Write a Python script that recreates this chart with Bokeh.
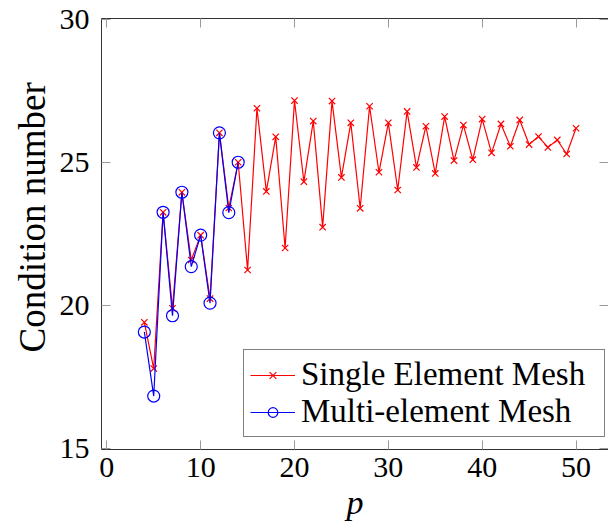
import numpy as np
from bokeh.plotting import figure
from bokeh.models import (Range1d, LinearAxis, FixedTicker, Legend, LegendItem,
                          CustomJSTickFormatter, Title)
from bokeh.embed import file_html
from bokeh.resources import INLINE

# ---- data ----
p_single = list(range(4, 51))
cond_single = [19.40, 17.78, 23.25, 19.89, 23.95, 21.58, 22.45, 20.23, 26.03, 23.40,
               25.00, 21.23, 26.89, 23.98, 25.89, 22.00, 27.16, 24.32, 26.44, 22.73,
               27.14, 24.47, 26.38, 23.39, 26.96, 24.65, 26.38, 24.03, 26.78, 24.82,
               26.26, 24.61, 26.60, 25.06, 26.30, 25.09, 26.51, 25.33, 26.34, 25.56,
               26.48, 25.62, 25.90, 25.52, 25.78, 25.29, 26.19]
p_multi = list(range(4, 15))
cond_multi = [19.06, 16.82, 23.25, 19.63, 23.95, 21.35, 22.45, 20.07, 26.03, 23.24, 25.00]

x_ticks = [0, 10, 20, 30, 40, 50]
y_ticks = [15, 20, 25, 30]
x_label = "p"
y_label = "Condition number"
series_names = ["Single Element Mesh", "Multi-element Mesh"]

FONT = "'Liberation Serif', serif"

p = figure(width=608, height=524, output_backend="svg", toolbar_location=None,
           x_range=Range1d(-0.565, 53.46), y_range=Range1d(14.95, 30.03),
           min_border_left=101, min_border_top=18, min_border_bottom=75,
           min_border_right=0)
p.outline_line_color = None
p.xgrid.visible = False
p.ygrid.visible = False
p.background_fill_color = "white"
p.border_fill_color = "white"

empty_fmt = CustomJSTickFormatter(code="return ''")

def style_axis(ax, ticks, labels=True, line=True):
    ax.ticker = FixedTicker(ticks=ticks)
    ax.minor_tick_line_color = None
    ax.major_tick_in = 9
    ax.major_tick_out = 0
    ax.major_tick_line_color = "#9a9a9a"
    ax.major_tick_line_width = 1
    ax.axis_line_color = "#333333" if line else None
    ax.axis_line_width = 1
    ax.major_label_text_font = FONT
    ax.major_label_text_font_size = "30px"
    ax.major_label_text_color = "black"
    if not labels:
        ax.formatter = empty_fmt

xax = p.xaxis[0]
yax = p.yaxis[0]
style_axis(xax, x_ticks)
style_axis(yax, y_ticks)
xax.major_label_standoff = 8
yax.major_label_standoff = 12
xax.axis_label = x_label
xax.axis_label_text_font = FONT
xax.axis_label_text_font_style = "italic"
xax.axis_label_text_font_size = "34px"
xax.axis_label_text_color = "black"
xax.axis_label_standoff = 4

top_ax = LinearAxis()
style_axis(top_ax, x_ticks, labels=False)
p.add_layout(top_ax, "above")
right_ax = LinearAxis()
style_axis(right_ax, y_ticks, labels=False, line=False)
p.add_layout(right_ax, "right")

# y axis title (a little above the frame centre, as in the reference)
ytitle = Title(text=y_label, align="left", offset=97, standoff=6,
               vertical_align="middle",
               text_font=FONT, text_font_size="37px", text_font_style="normal",
               text_color="black")
p.add_layout(ytitle, "left")

# ---- series ----
r1l = p.line(p_single, cond_single, line_color="red", line_width=1.2)
r1m = p.scatter(p_single, cond_single, marker="x", size=9, line_color="red",
                line_width=1.2)
r2l = p.line(p_multi, cond_multi, line_color="blue", line_width=1.2)
r2m = p.scatter(p_multi, cond_multi, marker="circle", size=12, line_color="blue",
                fill_color=None, line_width=1.2)

legend = Legend(items=[LegendItem(label=series_names[0], renderers=[r1l, r1m]),
                       LegendItem(label=series_names[1], renderers=[r2l, r2m])],
                location=(142, 12))
legend.label_text_font = FONT
legend.label_text_font_size = "33px"
legend.label_text_color = "black"
legend.glyph_width = 45
legend.glyph_height = 24
legend.label_height = 30
legend.label_width = 297
legend.label_standoff = 6
legend.spacing = 0
legend.padding = 6
legend.margin = 0
legend.border_line_color = "black"
legend.border_line_width = 1
legend.background_fill_color = "white"
legend.background_fill_alpha = 1.0
p.add_layout(legend)

open("out.html", "w").write(file_html(p, INLINE))
